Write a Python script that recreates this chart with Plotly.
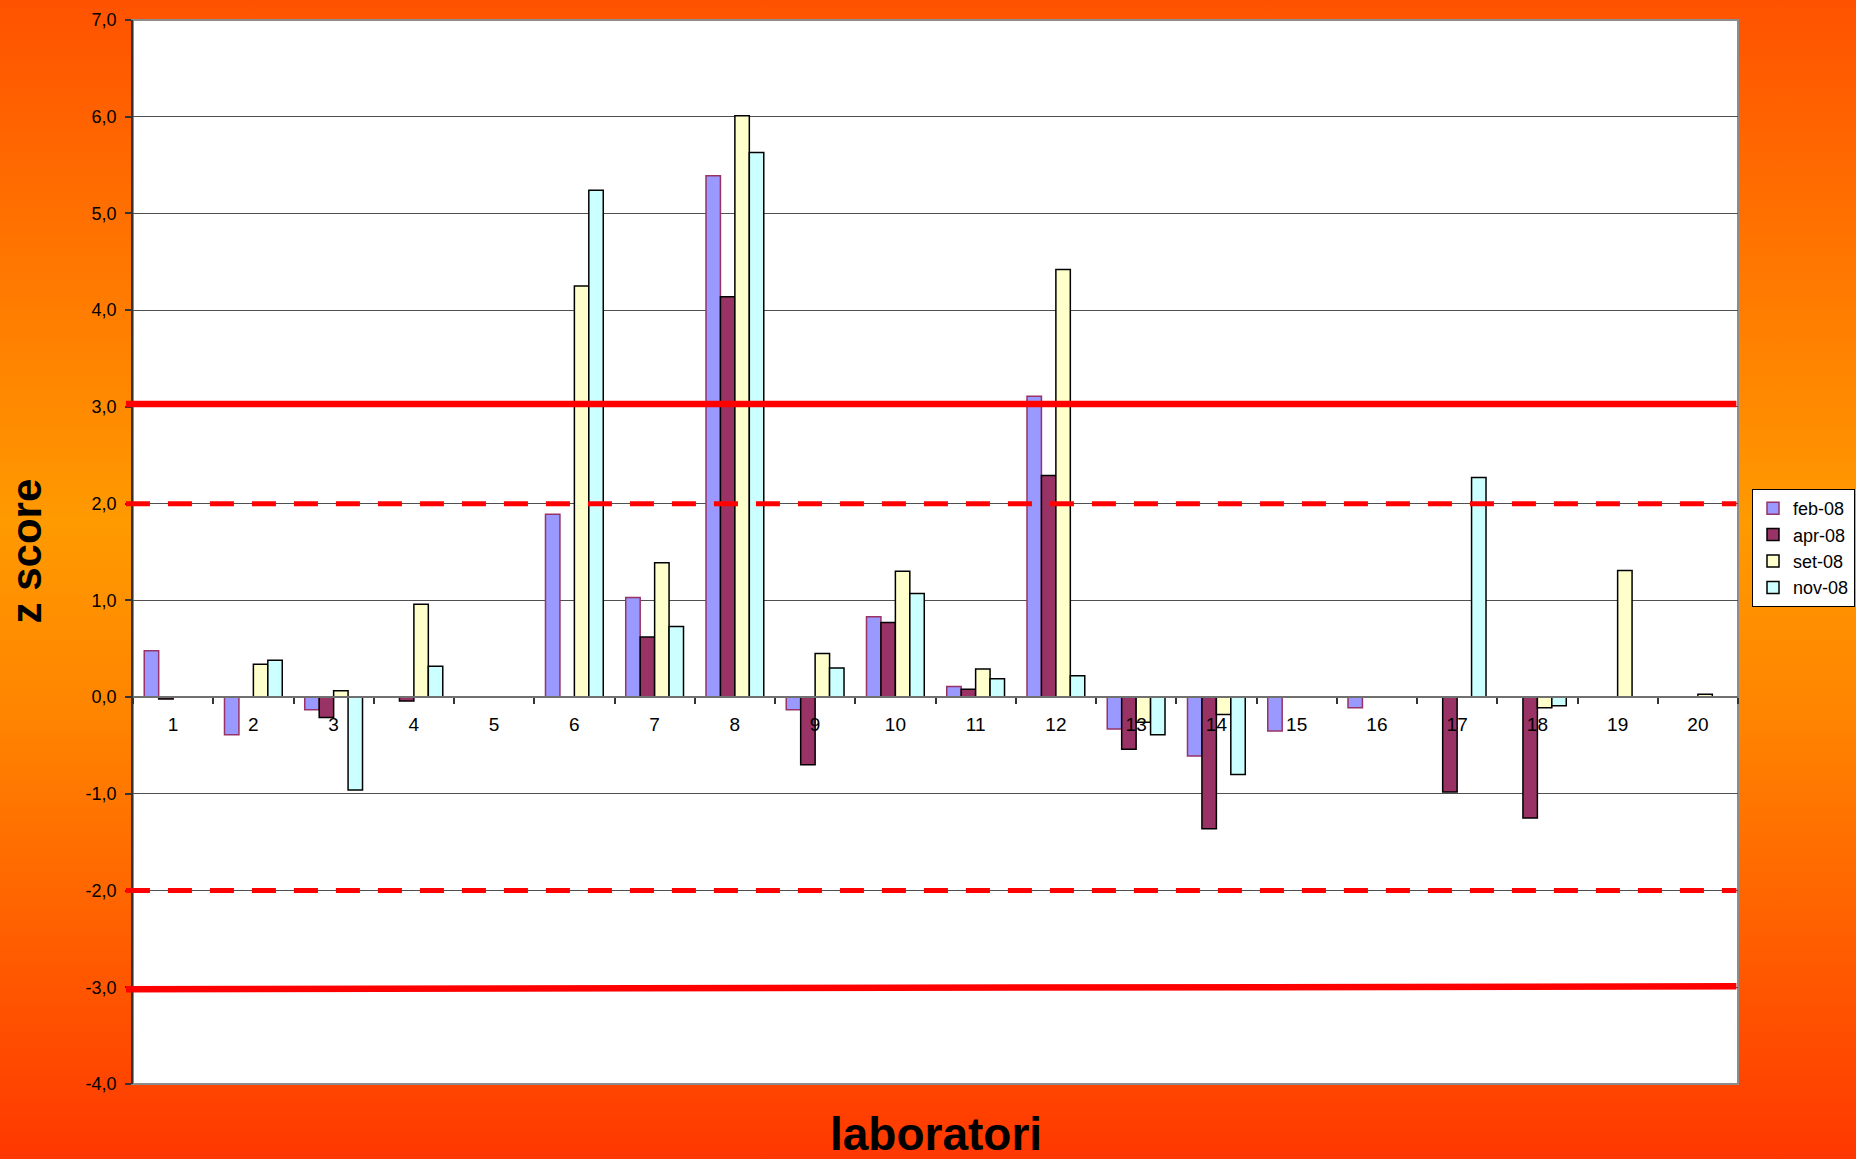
import base64
import plotly.graph_objects as go

# ---------------- data ----------------
laboratori = [str(i) for i in range(1, 21)]
series_names = ["feb-08", "apr-08", "set-08", "nov-08"]
feb_08 = [0.48, -0.39, -0.13, None, None, 1.89, 1.03, 5.39, -0.13, 0.83,
          0.11, 3.11, -0.33, -0.61, -0.35, -0.11, None, None, None, None]
apr_08 = [-0.02, None, -0.21, -0.04, None, None, 0.62, 4.14, -0.70, 0.77,
          0.08, 2.29, -0.54, -1.36, None, None, -0.98, -1.25, None, None]
set_08 = [None, 0.34, 0.065, 0.96, None, 4.25, 1.39, 6.01, 0.45, 1.30,
          0.29, 4.42, -0.26, -0.18, None, None, None, -0.11, 1.31, 0.03]
nov_08 = [None, 0.38, -0.96, 0.32, None, 5.24, 0.73, 5.63, 0.30, 1.07,
          0.19, 0.22, -0.39, -0.80, None, None, 2.27, -0.09, None, None]
y_ticks = [-4, -3, -2, -1, 0, 1, 2, 3, 4, 5, 6, 7]
y_tick_text = ["-4,0", "-3,0", "-2,0", "-1,0", "0,0", "1,0", "2,0", "3,0",
               "4,0", "5,0", "6,0", "7,0"]
action_limits = [3.03, -3.02]       # solid red lines (left end values)
action_limits_right = [3.03, -2.99]  # right end values
warning_limits = [2.0, -2.0]        # dashed red lines

# ---------------- styles ----------------
fills = ["#9999FF", "#993366", "#FFFFCC", "#CCFFFF"]
borders = ["#993366", "#000000", "#000000", "#000000"]

W, H = 1856, 1159
L, R, T, B = 133, 118, 20, 75
PW, PH = W - L - R, H - T - B

fig = go.Figure()
for name, vals, fc, lc in zip(series_names, [feb_08, apr_08, set_08, nov_08], fills, borders):
    fig.add_trace(go.Bar(x=laboratori, y=vals, name=name,
                         marker=dict(color=fc, line=dict(color=lc, width=1.5))))

# background gradient image
svg = ('<svg xmlns="http://www.w3.org/2000/svg" width="100" height="100" viewBox="0 0 100 100" '
       'preserveAspectRatio="none"><defs><linearGradient id="g" x1="0" y1="0" x2="0" y2="1">'
       '<stop offset="0" stop-color="#FF5200"/>'
       '<stop offset="0.45" stop-color="#FF9A00"/>'
       '<stop offset="0.62" stop-color="#FF8400"/>'
       '<stop offset="1" stop-color="#FF3800"/>'
       '</linearGradient></defs><rect x="0" y="0" width="100" height="100" fill="url(#g)"/></svg>')
src = "data:image/svg+xml;base64," + base64.b64encode(svg.encode()).decode()

shapes = [dict(type="rect", xref="paper", yref="paper", x0=0, x1=1, y0=0, y1=1,
               fillcolor="white", line=dict(color="#8c8c8c", width=2), layer="below")]
for y0, y1 in zip(action_limits, action_limits_right):
    shapes.append(dict(type="line", xref="paper", yref="y", x0=-0.0044, x1=0.999,
                       y0=y0, y1=y1, line=dict(color="#FF0000", width=6.5)))
for yv in warning_limits:
    shapes.append(dict(type="line", xref="paper", yref="y", x0=-0.0044, x1=0.999,
                       y0=yv, y1=yv, line=dict(color="#FF0000", width=5, dash="24px,18px")))

fig.update_layout(
    width=W, height=H,
    margin=dict(l=L, r=R, t=T, b=B, pad=0, autoexpand=False),
    paper_bgcolor="#FF7A00",
    plot_bgcolor="white",
    barmode="group", bargap=0.28, bargroupgap=0,
    font=dict(family="Liberation Sans, Arial, sans-serif", color="black"),
    images=[dict(source=src, xref="paper", yref="paper", x=-L / PW, y=1 + T / PH,
                 sizex=W / PW, sizey=H / PH, sizing="stretch", layer="below",
                 xanchor="left", yanchor="top")],
    shapes=shapes,
    xaxis=dict(type="category", range=[-0.5, 19.5], anchor="free", position=4 / 11,
               showgrid=False, showline=True, linecolor="#707070", linewidth=1.5,
               ticks="outside", tickson="boundaries", ticklen=6, tickcolor="#333333",
               tickwidth=1.5, tickfont=dict(size=19), ticklabelstandoff=10, zeroline=False),
    yaxis=dict(range=[-4, 7], tickvals=y_ticks, ticktext=y_tick_text, showgrid=True,
               gridcolor="#505050", gridwidth=1, zeroline=False, showline=True,
               linecolor="#333333", linewidth=1.5, ticks="outside", ticklen=6,
               tickcolor="#333333", tickwidth=1.5, tickfont=dict(size=18),
               ticklabelstandoff=5),
    legend=dict(xref="container", yref="container", x=1752 / W, y=1 - 489 / H,
                xanchor="left", yanchor="top",
                bgcolor="white", bordercolor="black", borderwidth=1,
                font=dict(size=18), itemwidth=30, tracegroupgap=0),
    annotations=[
        dict(text="<b>z score</b>", xref="paper", yref="paper", x=(25.5 - L) / PW,
             y=(H - B - 551) / PH, textangle=-90, showarrow=False,
             xanchor="center", yanchor="middle", font=dict(size=42)),
        dict(text="<b>laboratori</b>", xref="paper", yref="paper", x=0.5,
             y=(H - B - 1134) / PH, showarrow=False, xanchor="center",
             yanchor="middle", font=dict(size=46)),
    ],
)

fig.write_html("out.html", config={"displayModeBar": False},
               post_script="document.body.style.margin='0';document.body.style.overflow='hidden';")
